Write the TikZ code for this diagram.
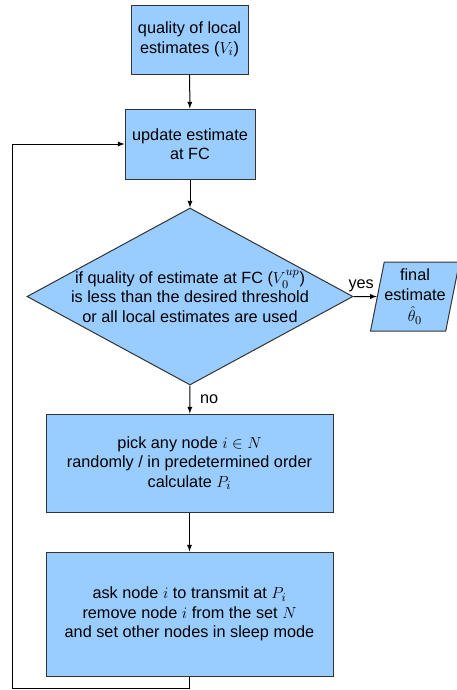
\documentclass[tikz,border=0pt]{standalone}
\usepackage{amssymb}
\usepackage{amsmath}
\usepackage{fontspec}
\setmainfont{Liberation Sans}
\usepackage{xcolor}
\usepackage{tikz}
\usetikzlibrary{calc}
\usetikzlibrary{arrows}
\usetikzlibrary{shapes.geometric}
\tikzset{>=latex}
\definecolor{boxblue}{HTML}{99CCFF}

\begin{document}
\begin{tikzpicture}[x=0.75pt, y=-0.75pt,
	font=\fontsize{12.2pt}{14.6pt}\selectfont,
	block/.style={rectangle, fill=boxblue, draw=black!80, line width=0.75pt, align=center, inner sep=2pt},
	decision/.style={diamond, fill=boxblue, draw=black!80, line width=0.75pt, inner sep=0pt, minimum width=244.5pt, minimum height=132.75pt},
	output/.style={trapezium, trapezium left angle=76, trapezium right angle=104, trapezium stretches=true, fill=boxblue, draw=black!80, line width=0.75pt, align=center, inner sep=0pt, minimum width=63pt, minimum height=51.75pt},
	flow/.style={->, line width=0.75pt, black}]
	\useasboundingbox (0,0) rectangle (457,690);

	\coordinate[](fb) at (12,144);

	%% Blocks
	\node[block, minimum width=87.75pt, minimum height=51.75pt] (quality) at (189.5,39.5)
	{quality of local\\ estimates ($V_i$)};
	\node[block, minimum width=97.5pt, minimum height=52.5pt] (update) at (190,144)
	{update estimate\\ at FC};
	\node[decision] (test) at (190,296.5) {};
	\node[align=center] (testtext) at (test)
	{if quality of estimate at FC ($V_0^{up}$)\\ is less than the desired threshold\\ or all local estimates are used};
	\node[output] (final) at (415,296.5) {final\\ estimate\\[1.5pt] $\hat{\theta}_0$};
	\node[block, minimum width=215.25pt, minimum height=73.5pt] (pick) at (189.5,463)
	{pick any node $i\in N$\\ randomly / in predetermined order\\ calculate $P_i$};
	\node[block, minimum width=215.25pt, minimum height=93pt] (ask) at (189.5,614)
	{ask node $i$ to transmit at $P_i$\\ remove node $i$ from the set $N$\\ and set other nodes in sleep mode};

	%% Connectors
	\draw[flow] (quality) -- (update);
	\draw[flow] (update) -- (test);
	\draw[flow] (test.east) -- node[above, xshift=-3pt] {yes} (final);
	\draw[flow] (test.south) -- node[right, xshift=4pt] {no} (pick);
	\draw[flow] (pick) -- (ask);
	\draw[flow] (ask.south) -- ++(0,12) -| (fb) -- (update.west);

\end{tikzpicture}
\end{document}
